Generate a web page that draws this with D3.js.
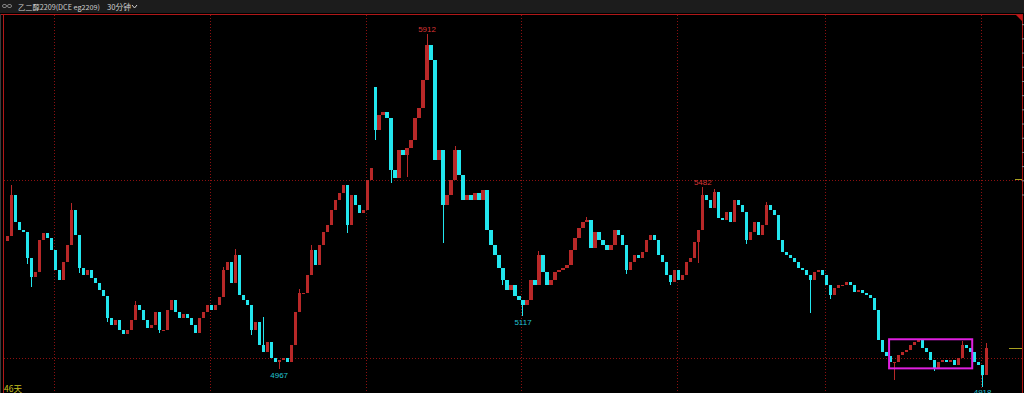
<!DOCTYPE html>
<html>
<head>
<meta charset="utf-8">
<script src="https://cdn.jsdelivr.net/npm/d3@7"></script>
<style>
  html, body { margin: 0; padding: 0; background: #000; overflow: hidden; }
  svg { display: block; }
</style>
</head>
<body>
<div id="chart"></div>
<script>
// 30-minute closes, left to right
var closes = [5343, 5459, 5383, 5360, 5354, 5281, 5228, 5242, 5332, 5351, 5337, 5304, 5247, 5219, 5270, 5317,
  5416, 5346, 5253, 5233, 5247, 5225, 5211, 5191, 5174, 5112, 5092, 5107, 5078, 5067, 5078, 5107,
  5149, 5134, 5107, 5084, 5092, 5129, 5078, 5078, 5134, 5163, 5129, 5112, 5123, 5112, 5092, 5070,
  5112, 5129, 5149, 5134, 5149, 5171, 5247, 5270, 5211, 5290, 5177, 5163, 5149, 5078, 5101, 5036,
  5016, 5044, 4999, 4988, 4993, 4999, 4988, 5036, 5129, 5182, 5182, 5233, 5304, 5261, 5317, 5354,
  5374, 5416, 5444, 5464, 5487, 5374, 5459, 5430, 5408, 5416, 5501, 5535, 5641, 5684, 5692, 5676,
  5529, 5507, 5585, 5571, 5591, 5614, 5676, 5704, 5783, 5881, 5839, 5557, 5585, 5430, 5459, 5501,
  5585, 5515, 5444, 5459, 5444, 5464, 5444, 5473, 5360, 5317, 5290, 5253, 5219, 5191, 5205, 5174,
  5163, 5149, 5163, 5219, 5205, 5290, 5242, 5205, 5219, 5242, 5247, 5253, 5261, 5304, 5337, 5365,
  5382, 5388, 5309, 5354, 5332, 5317, 5304, 5317, 5360, 5346, 5317, 5247, 5270, 5290, 5281, 5298,
  5332, 5346, 5332, 5290, 5270, 5233, 5214, 5247, 5219, 5233, 5270, 5281, 5326, 5360, 5459, 5444,
  5422, 5467, 5394, 5388, 5410, 5382, 5444, 5430, 5410, 5332, 5354, 5382, 5346, 5374, 5430, 5416,
  5402, 5332, 5298, 5290, 5281, 5270, 5253, 5247, 5233, 5219, 5242, 5247, 5233, 5205, 5177, 5196,
  5205, 5205, 5214, 5205, 5185, 5191, 5182, 5177, 5168, 5134, 5050, 5016, 5005, 4988, 4988, 5008,
  5016, 5022, 5036, 5044, 5050, 5027, 5016, 4993, 4971, 4988, 4993, 4988, 4993, 4979, 4999, 5036,
  5027, 5016, 4988, 4979, 4951, 5027];
var firstOpen = 5330;
// bars that opened away from the previous close: [bar, open]
var gapOpens = [[92, 5763]];
// shadows: [bar, high, low]
var wicks = [[1, 5487, null], [5, null, 5265], [6, null, 5200], [16, 5436, null], [18, null, 5240],
  [23, null, 5195], [25, null, 5100], [32, 5160, null], [38, null, 5070], [48, null, 5100],
  [54, 5255, null], [57, 5306, null], [61, null, 5065], [64, 5115, null], [68, null, 4967],
  [73, 5195, null], [76, 5318, null], [85, null, 5351], [92, null, 5614], [96, null, 5492],
  [100, null, 5510], [105, 5912, null], [107, 5720, null], [109, null, 5323], [112, 5598, null],
  [124, null, 5205], [129, null, 5117], [133, 5300, null], [145, 5396, null], [155, null, 5235],
  [166, null, 5205], [173, null, 5267], [174, 5482, null], [177, 5475, null], [185, null, 5320],
  [190, 5440, null], [201, null, 5126], [206, null, 5165], [222, null, 4938], [232, null, 4962],
  [239, 5048, null], [244, null, 4918], [245, 5041, null]];
var peakBars = [105, 174];
var troughBars = [68, 129, 244];
var gridBars = [12, 51, 90, 129, 168, 205, 244];
var gridPrices = [5000, 5500];
var rightTicks = [5460, 5500, 5540, 5580, 5620, 5660, 5700, 5740, 5780, 5820, 5860, 5900, 5940];
var boxBars = [221, 241];
var boxPrices = [4970, 5052];
var markPrices = [5504, 5026];

var width = 1024, height = 393;
var upColor = "#b82828", downColor = "#22e6ee";

// build candles
var candles = closes.map(function (c, i) {
  var o = i === 0 ? firstOpen : closes[i - 1];
  gapOpens.forEach(function (g) { if (g[0] === i) o = g[1]; });
  var h = Math.max(o, c), l = Math.min(o, c);
  wicks.forEach(function (w) {
    if (w[0] === i) {
      if (w[1] != null) h = Math.max(h, w[1]);
      if (w[2] != null) l = Math.min(l, w[2]);
    }
  });
  return { i: i, o: o, h: h, l: l, c: c };
});

var svg = d3.select("#chart").append("svg")
  .attr("width", width)
  .attr("height", height);

svg.append("rect").attr("width", width).attr("height", height).attr("fill", "#000");

// scales
var x = d3.scaleBand()
  .domain(d3.range(closes.length))
  .range([5, 5 + 4 * closes.length])
  .padding(0.2);
var y = d3.scaleLinear()
  .domain([4900, 5960])
  .range([393.2, 17.1]);

// title bar
svg.append("rect").attr("x", 0).attr("y", 0).attr("width", width).attr("height", 13).attr("fill", "#1c1c1c");
svg.selectAll("icon").data([2, 7]).enter().append("rect")
  .attr("x", function (d) { return d + 0.5; }).attr("y", 4.5)
  .attr("width", 4).attr("height", 3).attr("rx", 1.5)
  .attr("fill", "none").attr("stroke", "#9a9a9a").attr("stroke-width", 0.8);
svg.append("text").attr("x", 18).attr("y", 10)
  .attr("textLength", 82).attr("lengthAdjust", "spacingAndGlyphs")
  .style("font-family", "'Noto Sans CJK SC', sans-serif").style("font-size", "7px").style("fill", "#cfcfcf")
  .text("乙二醇2209(DCE eg2209)");
svg.append("text").attr("x", 107).attr("y", 10)
  .attr("textLength", 24).attr("lengthAdjust", "spacingAndGlyphs")
  .style("font-family", "'Noto Sans CJK SC', sans-serif").style("font-size", "7.5px").style("fill", "#cfcfcf")
  .text("30分钟");
svg.append("path").attr("d", "M132,5 L134.5,8 L137,5")
  .attr("fill", "none").attr("stroke", "#cfcfcf").attr("stroke-width", 1);

// frame
svg.append("line").attr("x1", 0).attr("x2", 1022).attr("y1", 14.5).attr("y2", 14.5)
  .attr("stroke", "#b01818").attr("stroke-width", 1);
svg.append("line").attr("x1", 3.5).attr("x2", 3.5).attr("y1", 14).attr("y2", height)
  .attr("stroke", "#b01818").attr("stroke-width", 1);
svg.append("line").attr("x1", 0.5).attr("x2", 0.5).attr("y1", 14).attr("y2", height)
  .attr("stroke", "#3a3a3a").attr("stroke-width", 1);
svg.append("line").attr("x1", 1022.5).attr("x2", 1022.5).attr("y1", 14).attr("y2", height)
  .attr("stroke", "#b01818").attr("stroke-width", 1);
svg.append("path").attr("d", "M1016,15 L1022,15 L1022,21 Z").attr("fill", "#c01818");

// right side ticks
var axisR = d3.axisRight(y).tickValues(rightTicks).tickSize(2).tickFormat("");
svg.append("g").attr("transform", "translate(1022,0)").call(axisR)
  .call(function (g) { g.select(".domain").remove(); })
  .selectAll("line").attr("stroke", "#8a8a8a");

// grid
svg.selectAll("vgrid").data(gridBars).enter().append("line")
  .attr("x1", function (d) { return Math.round(x(d)) + 0.5; })
  .attr("x2", function (d) { return Math.round(x(d)) + 0.5; })
  .attr("y1", 15).attr("y2", height)
  .attr("stroke", "#8c1010").attr("stroke-dasharray", "1,2");
svg.selectAll("hgrid").data(gridPrices).enter().append("line")
  .attr("x1", 4).attr("x2", 1022)
  .attr("y1", function (d) { return Math.round(y(d)) + 0.5; })
  .attr("y2", function (d) { return Math.round(y(d)) + 0.5; })
  .attr("stroke", "#8c1010").attr("stroke-dasharray", "1,2");

// yellow price markers on the right edge
svg.selectAll("marks").data(markPrices).enter().append("line")
  .attr("x1", function (d, i) { return i === 0 ? 1015 : 1009; }).attr("x2", 1022)
  .attr("y1", function (d) { return Math.round(y(d)) + 0.5; })
  .attr("y2", function (d) { return Math.round(y(d)) + 0.5; })
  .attr("stroke", "#a8a020").attr("stroke-width", 1);

// candles
var g = svg.append("g").attr("shape-rendering", "crispEdges");
g.selectAll("wick").data(candles).enter().append("line")
  .attr("x1", function (d) { return Math.floor(x(d.i) + x.bandwidth() / 2) + 0.5; })
  .attr("x2", function (d) { return Math.floor(x(d.i) + x.bandwidth() / 2) + 0.5; })
  .attr("y1", function (d) { return y(d.h); })
  .attr("y2", function (d) { return y(d.l); })
  .attr("stroke", function (d) { return d.c >= d.o ? upColor : downColor; })
  .attr("stroke-width", 1);
g.selectAll("body").data(candles).enter().append("rect")
  .attr("x", function (d) { return x(d.i); })
  .attr("width", x.bandwidth())
  .attr("y", function (d) { return y(Math.max(d.o, d.c)); })
  .attr("height", function (d) { return Math.max(1, Math.abs(y(d.o) - y(d.c))); })
  .attr("fill", function (d) { return d.c >= d.o ? upColor : downColor; });

// consolidation box
svg.append("rect")
  .attr("x", x(boxBars[0]))
  .attr("y", y(boxPrices[1]))
  .attr("width", x(boxBars[1]) + x.bandwidth() - x(boxBars[0]))
  .attr("height", y(boxPrices[0]) - y(boxPrices[1]))
  .attr("fill", "none").attr("stroke", "#e020e0").attr("stroke-width", 2);

// high / low labels
svg.selectAll("peaks").data(peakBars).enter().append("text")
  .attr("x", function (d) { return x(d) + x.bandwidth() / 2; })
  .attr("y", function (d) { return y(candles[d].h) - 2; })
  .attr("text-anchor", "middle")
  .style("font-family", "'Liberation Sans', Arial, sans-serif").style("font-size", "8px")
  .style("fill", "#d83434")
  .text(function (d) { return candles[d].h; });
svg.selectAll("troughs").data(troughBars).enter().append("text")
  .attr("x", function (d) { return x(d) + x.bandwidth() / 2; })
  .attr("y", function (d) { return y(candles[d].l) + 8.5; })
  .attr("text-anchor", "middle")
  .style("font-family", "'Liberation Sans', Arial, sans-serif").style("font-size", "8px")
  .style("fill", "#22c4d4")
  .text(function (d) { return candles[d].l; });

// day count
svg.append("text").attr("x", 4).attr("y", 392)
  .style("font-family", "'Noto Sans CJK SC', sans-serif").style("font-size", "8.5px")
  .style("fill", "#c8c020")
  .text("46天");
</script>
</body>
</html>
